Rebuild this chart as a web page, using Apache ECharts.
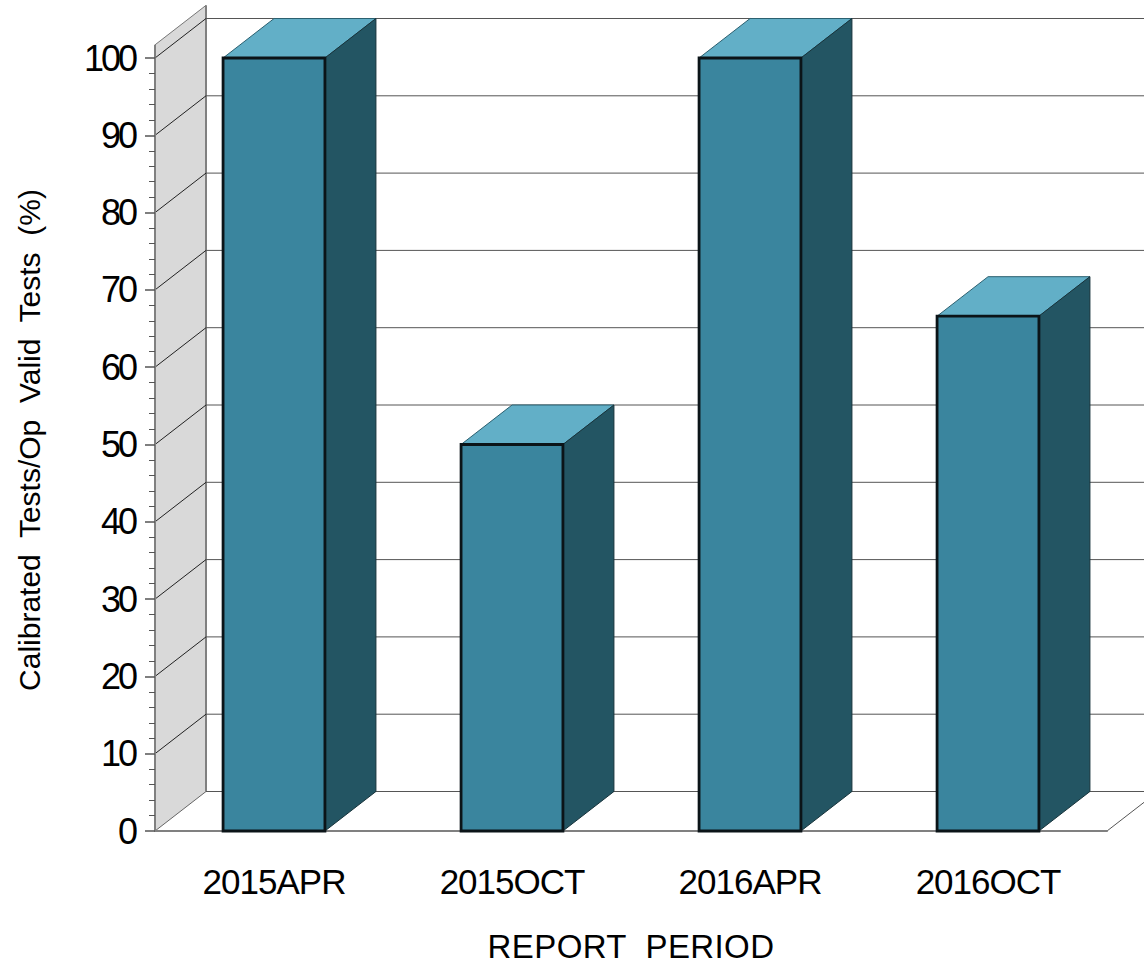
<!DOCTYPE html>
<html>
<head>
<meta charset="utf-8">
<style>
html,body{margin:0;padding:0;background:#fff}
#c{width:1144px;height:965px}
#c text[style*="36px"]{letter-spacing:-3px}
#c text[style*="35px"]{letter-spacing:-1px}
#c text[style*="33px"]{letter-spacing:0.4px}
</style>
<script src="https://cdn.jsdelivr.net/npm/echarts@6/dist/echarts.min.js"></script>
</head>
<body>
<div id="c"></div>
<script>
var categories = ['2015APR', '2015OCT', '2016APR', '2016OCT'];
var values = [100, 50, 100, 66.6];
var gridTicks = [0, 10, 20, 30, 40, 50, 60, 70, 80, 90, 100];
var wallTop = 101.7;
var xTitle = 'REPORT  PERIOD';
var yTitle = 'Calibrated  Tests/Op  Valid  Tests  (%)';

var DX = 51, DY = -39.5;
var FONT = '"Liberation Sans", Arial, sans-serif';

function poly(points, fill, stroke, lw) {
  return { type: 'polygon', shape: { points: points }, style: { fill: fill, stroke: stroke, lineWidth: lw } };
}
function line(x1, y1, x2, y2, color, lw) {
  return { type: 'line', shape: { x1: x1, y1: y1, x2: x2, y2: y2 }, style: { stroke: color, lineWidth: lw } };
}

function renderWalls(params, api) {
  var o = api.coord([0, 0]);
  var bandW = api.size([1, 0])[0];
  var x0 = o[0] - bandW / 2;
  var x1 = x0 + bandW * categories.length;
  var yB = o[1];
  var yT = api.coord([0, wallTop])[1];
  return {
    type: 'group',
    children: [
      poly([[x0, yB], [x0 + DX, yB + DY], [x0 + DX, yT + DY], [x0, yT]], '#d9d9d9', null, 0),
      line(x0, yT, x0 + DX, yT + DY, '#777777', 1),
      line(x0, yT, x0, yB, '#808080', 2),
      line(x0 + DX, yT + DY, x0 + DX, yB + DY, '#808080', 2),
      line(x1, yB, x1 + DX, yB + DY, '#555555', 1)
    ]
  };
}
function renderGrid(params, api) {
  var o = api.coord([0, api.value(1)]);
  var bandW = api.size([1, 0])[0];
  var x0 = o[0] - bandW / 2;
  var x1 = x0 + bandW * categories.length;
  var y = o[1];
  return {
    type: 'group',
    children: [
      line(x0, y, x0 + DX, y + DY, api.value(1) === 0 ? '#666666' : '#222222', 1),
      line(x0 + DX, y + DY, x1 + DX, y + DY, '#555555', 1)
    ]
  };
}
function renderBar(params, api) {
  var c = api.coord([api.value(0), api.value(1)]);
  var b = api.coord([api.value(0), 0]);
  var w = api.size([1, 0])[0] * 0.428;
  var l = c[0] - w / 2, r = c[0] + w / 2, t = c[1], bt = b[1];
  return {
    type: 'group',
    children: [
      poly([[l, t], [r, t], [r + DX, t + DY], [l + DX, t + DY]], '#62afc7', '#2b6070', 1),
      poly([[r, t], [r + DX, t + DY], [r + DX, bt + DY], [r, bt]], '#235563', '#17333b', 1),
      poly([[l, t], [r, t], [r, bt], [l, bt]], '#3a859e', '#0b1418', 2.8)
    ]
  };
}

var chart = echarts.init(document.getElementById('c'), null, { renderer: 'svg' });
chart.setOption({
  animation: false,
  backgroundColor: '#ffffff',
  grid: { left: 155, top: 58, width: 952, height: 773, containLabel: false, outerBoundsMode: 'none' },
  xAxis: {
    type: 'category',
    data: categories,
    name: xTitle,
    nameLocation: 'middle',
    nameGap: 99,
    nameTextStyle: { color: '#000', fontFamily: FONT, fontSize: 33 },
    axisLine: { show: true, onZero: false, lineStyle: { color: '#808080', width: 2 } },
    axisTick: { show: false },
    axisLabel: { color: '#000', fontFamily: FONT, fontSize: 35, margin: 33 },
    splitLine: { show: false },
    z: 3
  },
  yAxis: {
    type: 'value',
    min: 0,
    max: 100,
    interval: 10,
    name: yTitle,
    nameLocation: 'middle',
    nameGap: 111,
    nameRotate: 90,
    nameTextStyle: { color: '#000', fontFamily: FONT, fontSize: 30, padding: [0, 0, 0, 9] },
    axisLine: { show: true, onZero: false, lineStyle: { color: '#808080', width: 2 } },
    axisTick: { show: true, inside: false, length: 10, lineStyle: { color: '#555555', width: 1.5 } },
    minorTick: { show: true, splitNumber: 5, length: 6, lineStyle: { color: '#555555', width: 1 } },
    axisLabel: { color: '#000', fontFamily: FONT, fontSize: 36, margin: 20 },
    splitLine: { show: false },
    z: 3
  },
  series: [
    { type: 'custom', renderItem: renderWalls, data: [[0, 0]], clip: false, silent: true, z: 1 },
    { type: 'custom', renderItem: renderGrid, data: gridTicks.map(function (t) { return [0, t]; }), clip: false, silent: true, z: 2 },
    { type: 'custom', renderItem: renderBar, data: values.map(function (v, i) { return [i, v]; }), clip: false, silent: true, z: 4 }
  ]
});
</script>
</body>
</html>
